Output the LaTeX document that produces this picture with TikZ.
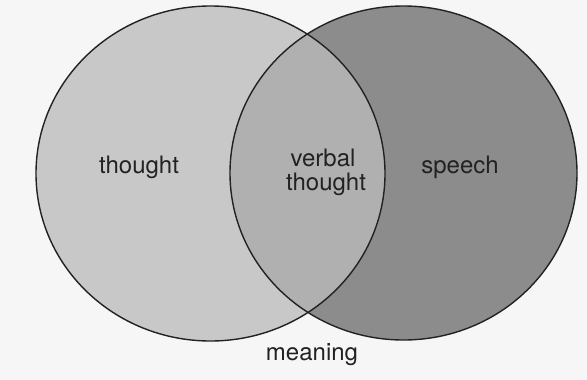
\documentclass[tikz,border=0pt]{standalone}
\usepackage{fontspec}
\setmainfont{TeX Gyre Heros}
\definecolor{bgc}{HTML}{F6F6F6}
\definecolor{leftc}{HTML}{C8C8C8}
\definecolor{rightc}{HTML}{8C8C8C}
\definecolor{lensc}{HTML}{B0B0B0}
\definecolor{inkc}{HTML}{222222}
\tikzset{
  lbl/.style={font=\fontsize{24}{25}\selectfont, text=inkc, inner sep=0pt, align=center},
  rim/.style={draw=inkc, line width=1.4pt}
}
\begin{document}
\begin{tikzpicture}[x=1pt,y=-1pt]
\fill[bgc] (0,0) rectangle (587,380);
\useasboundingbox (0,0) rectangle (587,380);
\fill[leftc] (210.5,173.5) ellipse [x radius=174.5, y radius=167.5];
\fill[rightc] (403.5,173) ellipse [x radius=173.5, y radius=167];
\begin{scope}
  \clip (210.5,173.5) ellipse [x radius=174.5, y radius=167.5];
  \fill[lensc] (403.5,173) ellipse [x radius=173.5, y radius=167];
\end{scope}
\draw[rim] (210.5,173.5) ellipse [x radius=174.5, y radius=167.5];
\draw[rim] (403.5,173) ellipse [x radius=173.5, y radius=167];
\node[lbl] (thought) at (139,167) {thought};
\node[lbl] (speech) at (460,167) {speech};
\node[lbl, text height=17pt, text depth=5pt] (verbal) at (323,160) {verbal};
\node[lbl] (vthought) at (326,184) {thought};
\node[lbl] (meaning) at (312,355) {meaning};
\end{tikzpicture}
\end{document}
